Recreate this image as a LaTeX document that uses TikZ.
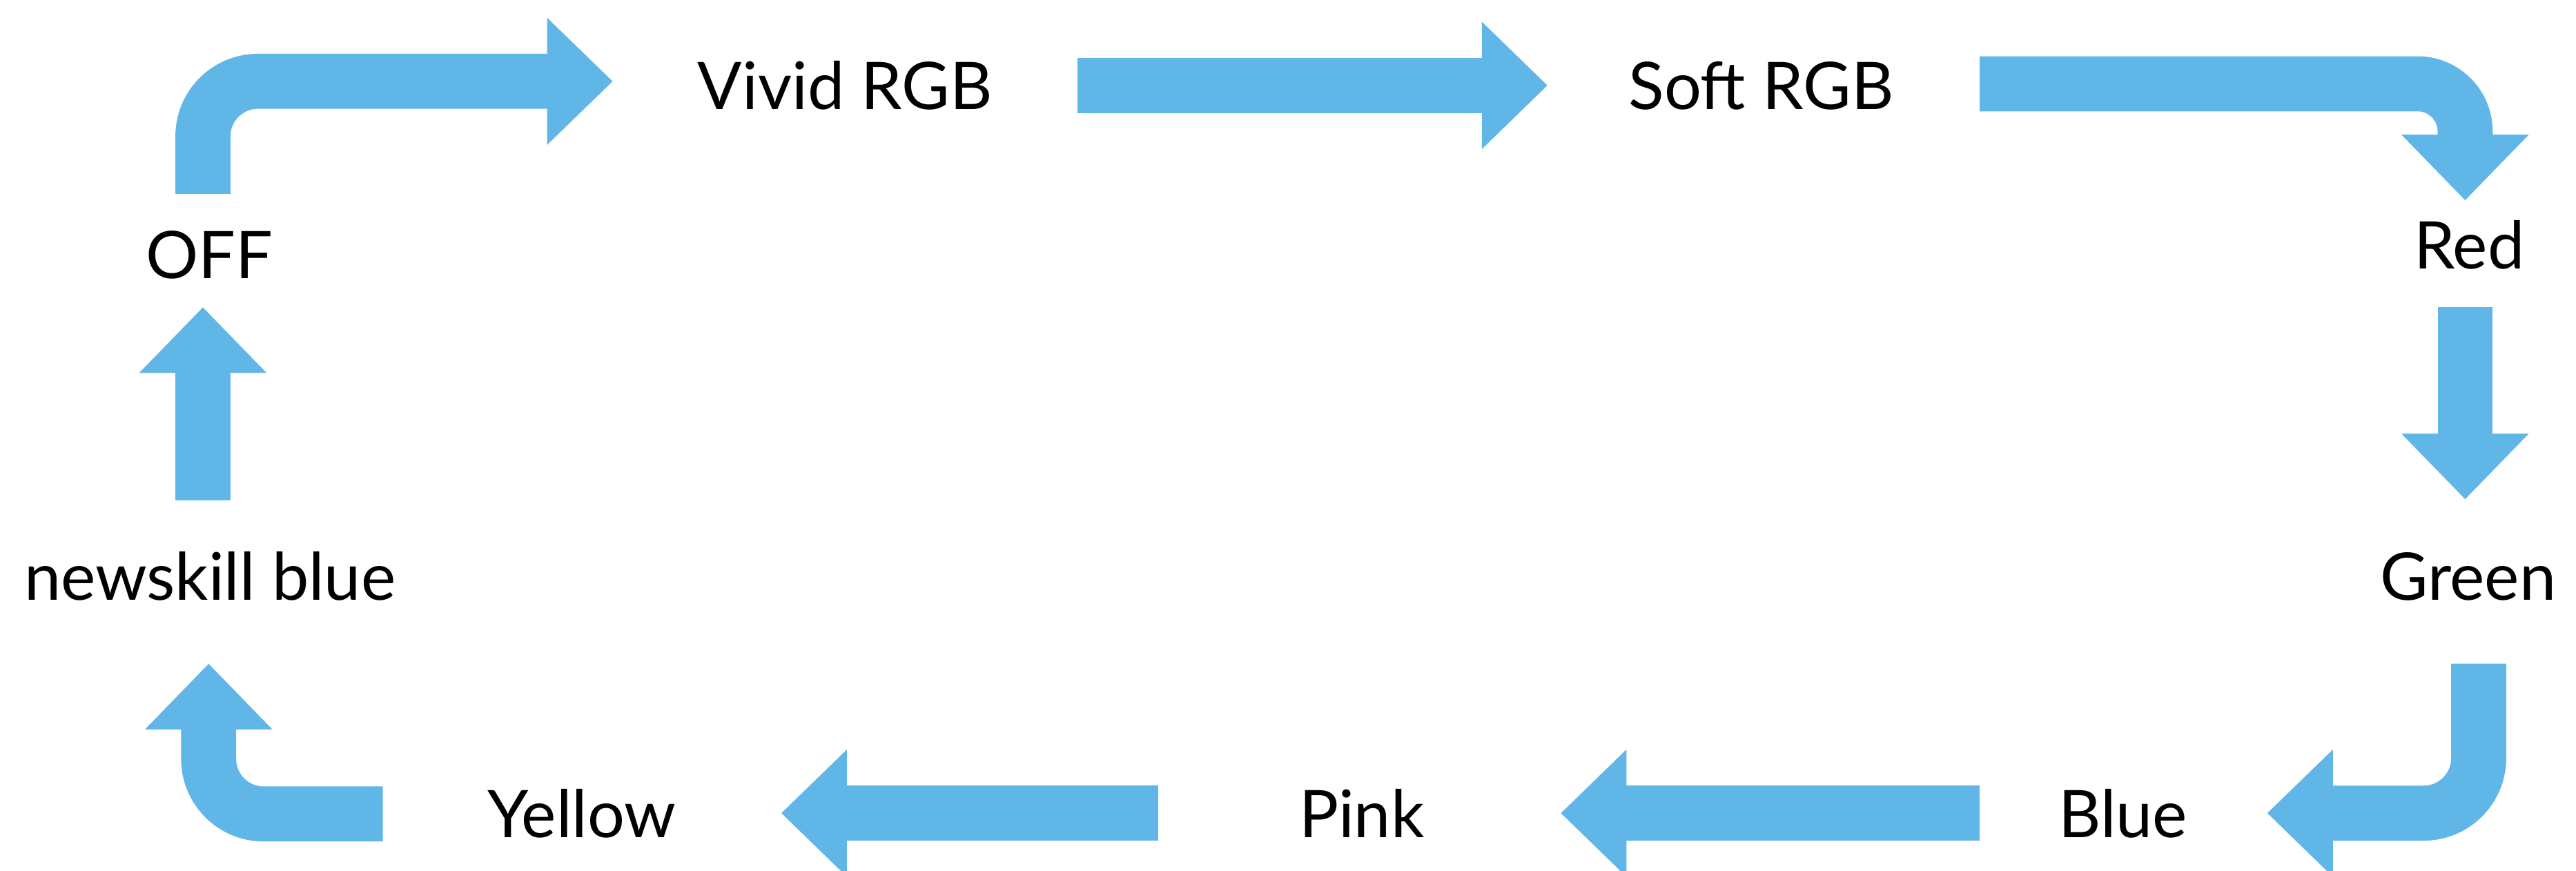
\documentclass[tikz,border=0pt]{standalone}
\usepackage{fontspec}
\setmainfont{Lato}
\usetikzlibrary{arrows.meta}
\definecolor{arrowblue}{RGB}{97,182,232}
\tikzset{
  blockarrow/.style={draw=arrowblue, line width=33.5pt,
    -{Triangle[length=40pt,width=75pt]}},
  lbl/.style={anchor=base, inner sep=0pt, font=\fontsize{40}{48}\selectfont}
}
\begin{document}
\begin{tikzpicture}[x=1pt,y=-1pt]
\useasboundingbox (0,0) rectangle (1568,530);
\clip (0,0) rectangle (1568,530);
\fill[white] (0,0) rectangle (1568,530);
% labels
\node[lbl] (off)    at (127.5,169.5) {OFF};
\node[lbl] (vivid)  at (514.4,66.5) {Vivid RGB};
\node[lbl] (soft)   at (1072,66.5) {Soft RGB};
\node[lbl] (red)    at (1503,163.5) {Red};
\node[lbl] (green)  at (1502.3,365.5) {Green};
\node[lbl] (blue)   at (1292.3,509.8) {Blue};
\node[lbl] (pink)   at (828.8,509.8) {Pink};
\node[lbl] (yellow) at (354.2,509.8) {Yellow};
\node[lbl] (nsb)    at (127.8,365.2) {newskill blue};
% connector end points
\coordinate (a0) at (123.5,118);   \coordinate (a1) at (123.5,49.5);  \coordinate (a2) at (373,49.5);
\coordinate (b0) at (656,52);      \coordinate (b1) at (942,52);
\coordinate (c0) at (1205,51);     \coordinate (c1) at (1500.5,51);   \coordinate (c2) at (1500.5,122);
\coordinate (d0) at (1500.5,187);  \coordinate (d1) at (1500.5,304);
\coordinate (e0) at (1508.75,404); \coordinate (e1) at (1508.75,495); \coordinate (e2) at (1380,495);
\coordinate (f0) at (1205,495);    \coordinate (f1) at (950,495);
\coordinate (g0) at (705,495);     \coordinate (g1) at (475.5,495);
\coordinate (h0) at (233,495.5);   \coordinate (h1) at (127,495.5);   \coordinate (h2) at (127,404);
\coordinate (i0) at (123.5,304.5); \coordinate (i1) at (123.5,187);
% connectors
\draw[blockarrow, rounded corners=33.5pt] (a0) -- (a1) -- (a2);
\draw[blockarrow] (b0) -- (b1);
\draw[blockarrow, rounded corners=29pt] (c0) -- (c1) -- (c2);
\draw[blockarrow] (d0) -- (d1);
\draw[blockarrow, rounded corners=33.5pt] (e0) -- (e1) -- (e2);
\draw[blockarrow] (f0) -- (f1);
\draw[blockarrow] (g0) -- (g1);
\draw[blockarrow, rounded corners=33.5pt] (h0) -- (h1) -- (h2);
\draw[blockarrow] (i0) -- (i1);
\end{tikzpicture}
\end{document}
